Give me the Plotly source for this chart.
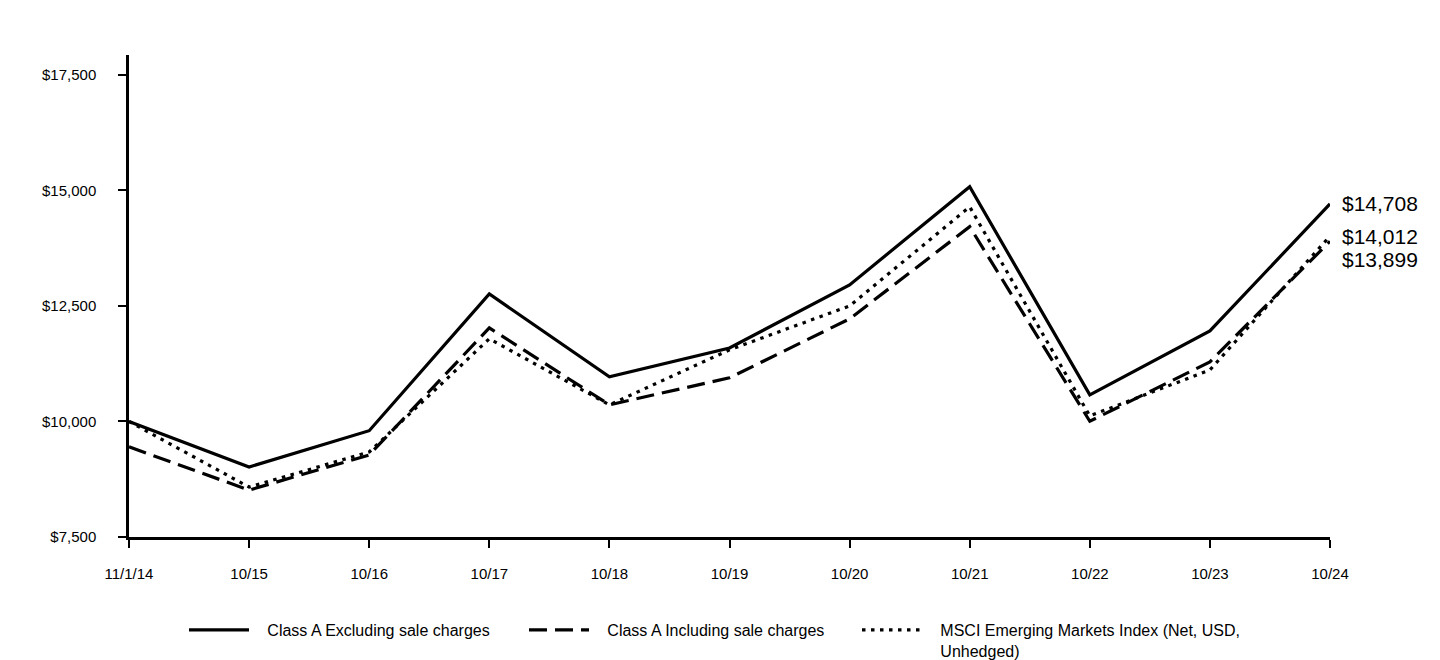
import plotly.graph_objects as go

categories = ["11/1/14", "10/15", "10/16", "10/17", "10/18", "10/19", "10/20", "10/21", "10/22", "10/23", "10/24"]
class_a_excl = [10000, 9015, 9800, 12760, 10965, 11590, 12955, 15080, 10575, 11960, 14708]
class_a_incl = [9450, 8515, 9275, 12025, 10360, 10945, 12220, 14215, 10005, 11290, 13899]
msci_em = [10000, 8580, 9340, 11790, 10360, 11550, 12500, 14645, 10120, 11115, 14012]

series_names = ["Class A Excluding sale charges", "Class A Including sale charges",
                "MSCI Emerging Markets Index (Net, USD,<br>Unhedged)"]
y_ticks = [7500, 10000, 12500, 15000, 17500]
y_tick_text = ["${:,}".format(v) for v in y_ticks]

FONT = "Liberation Sans, Arial, sans-serif"
PAD = "\u00a0\u00a0\u00a0"


def legend_label(name):
    return "<br>".join(PAD + part for part in name.split("<br>"))


fig = go.Figure()
fig.add_trace(go.Scatter(x=categories, y=class_a_excl, mode="lines", name=legend_label(series_names[0]),
                         line=dict(color="black", width=3.2, dash="solid"), legend="legend"))
fig.add_trace(go.Scatter(x=categories, y=class_a_incl, mode="lines", name=legend_label(series_names[1]),
                         line=dict(color="black", width=3.2, dash="18px,8px"), legend="legend2"))
fig.add_trace(go.Scatter(x=categories, y=msci_em, mode="lines", name=legend_label(series_names[2]),
                         line=dict(color="black", width=3.2, dash="3.5px,5.5px"), legend="legend3"))

# end labels
end_font = dict(size=21, color="black", family=FONT)
fig.add_annotation(x=categories[-1], y=class_a_excl[-1], text="${:,}".format(class_a_excl[-1]),
                   xanchor="left", yanchor="middle", xshift=10, showarrow=False, font=end_font)
fig.add_annotation(x=categories[-1], y=msci_em[-1], text="${:,}".format(msci_em[-1]),
                   xanchor="left", yanchor="middle", xshift=10, yshift=0, showarrow=False, font=end_font)
fig.add_annotation(x=categories[-1], y=class_a_incl[-1], text="${:,}".format(class_a_incl[-1]),
                   xanchor="left", yanchor="middle", xshift=10, yshift=-18, showarrow=False, font=end_font)

legend_common = dict(orientation="h", yanchor="top", xanchor="left", bgcolor="rgba(0,0,0,0)",
                     font=dict(size=16, color="black", family=FONT), itemwidth=60,
                     xref="container", yref="container", valign="top")

fig.update_layout(
    width=1440, height=660,
    paper_bgcolor="white", plot_bgcolor="white",
    margin=dict(l=121, r=118, t=47, b=131),
    font=dict(family=FONT, color="black", size=15),
    showlegend=True,
    legend=dict(**legend_common, x=176 / 1440, y=1 - 605 / 660),
    legend2=dict(**legend_common, x=516 / 1440, y=1 - 605 / 660),
    legend3=dict(**legend_common, x=849 / 1440, y=1 - 605 / 660),
    xaxis=dict(type="category", range=[0, len(categories) - 1], showline=True, linecolor="black",
               linewidth=2.5, ticks="outside", ticklen=8, tickwidth=2, tickcolor="black",
               showgrid=False, zeroline=False, tickfont=dict(size=15, family=FONT), ticklabelstandoff=13),
    yaxis=dict(range=[7500, 17930], tickmode="array", tickvals=y_ticks, ticktext=y_tick_text,
               showline=True, linecolor="black", linewidth=2.5, ticks="outside", ticklen=8,
               tickwidth=2, tickcolor="black", showgrid=False, zeroline=False,
               tickfont=dict(size=15, family=FONT), ticklabelstandoff=19),
)

fig.write_html("out.html")
